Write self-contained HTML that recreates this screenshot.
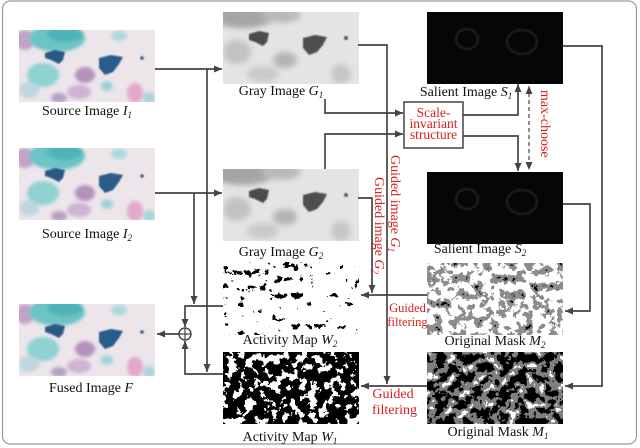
<!DOCTYPE html>
<html><head><meta charset="utf-8"><style>html,body{margin:0;padding:0;background:#fff}svg{display:block}svg text{font-family:"Liberation Serif","Times New Roman",serif}</style></head>
<body>
<svg width="640" height="448" viewBox="0 0 640 448" xmlns="http://www.w3.org/2000/svg" font-size="14">
<defs>
  <clipPath id="cp"><rect width="136" height="72"/></clipPath>
  <filter id="b3" x="-30%" y="-30%" width="160%" height="160%"><feGaussianBlur stdDeviation="3"/></filter>
  <filter id="b2" x="-30%" y="-30%" width="160%" height="160%"><feGaussianBlur stdDeviation="1.6"/></filter>
  <filter id="b1" x="-30%" y="-30%" width="160%" height="160%"><feGaussianBlur stdDeviation="0.7"/></filter>
  <marker id="ar" markerUnits="userSpaceOnUse" markerWidth="8" markerHeight="7" refX="8" refY="3.5" orient="auto-start-reverse"><path d="M0,0 L8,3.5 L0,7 z" fill="#444"/></marker>

  <filter id="fW2" x="0" y="0" width="1" height="1" color-interpolation-filters="sRGB">
    <feTurbulence type="fractalNoise" baseFrequency="0.13" numOctaves="4" seed="11"/>
    <feColorMatrix type="matrix" values="1 0 0 0 0 1 0 0 0 0 1 0 0 0 0 0 0 0 0 1"/>
    <feComponentTransfer>
      <feFuncR type="discrete" tableValues="0 0 0 0 0 0 0 1 1 1 1 1 1 1 1 1 1 1 1 1 1 1 1 1 1"/>
      <feFuncG type="discrete" tableValues="0 0 0 0 0 0 0 1 1 1 1 1 1 1 1 1 1 1 1 1 1 1 1 1 1"/>
      <feFuncB type="discrete" tableValues="0 0 0 0 0 0 0 1 1 1 1 1 1 1 1 1 1 1 1 1 1 1 1 1 1"/>
    </feComponentTransfer>
  </filter>
  <filter id="fW2b" x="0" y="0" width="1" height="1" color-interpolation-filters="sRGB">
    <feTurbulence type="fractalNoise" baseFrequency="0.13" numOctaves="4" seed="11"/>
    <feColorMatrix type="matrix" values="1 0 0 0 0 1 0 0 0 0 1 0 0 0 0 0 0 0 0 1"/>
    <feComponentTransfer>
      <feFuncR type="discrete" tableValues="0 0 0 0 0 0 0 0 0 1 1 1 1 1 1 1 1 1 1 1 1 1 1 1 1"/>
      <feFuncG type="discrete" tableValues="0 0 0 0 0 0 0 0 0 1 1 1 1 1 1 1 1 1 1 1 1 1 1 1 1"/>
      <feFuncB type="discrete" tableValues="0 0 0 0 0 0 0 0 0 1 1 1 1 1 1 1 1 1 1 1 1 1 1 1 1"/>
    </feComponentTransfer>
  </filter>
  <filter id="fW1" x="0" y="0" width="1" height="1" color-interpolation-filters="sRGB">
    <feTurbulence type="fractalNoise" baseFrequency="0.11" numOctaves="4" seed="5"/>
    <feColorMatrix type="matrix" values="1 0 0 0 0 1 0 0 0 0 1 0 0 0 0 0 0 0 0 1"/>
    <feComponentTransfer>
      <feFuncR type="discrete" tableValues="0 0 0 0 0 0 0 0 0 0 0 0 0 0 1 1 1 1 1 1 1 1 1 1 1"/>
      <feFuncG type="discrete" tableValues="0 0 0 0 0 0 0 0 0 0 0 0 0 0 1 1 1 1 1 1 1 1 1 1 1"/>
      <feFuncB type="discrete" tableValues="0 0 0 0 0 0 0 0 0 0 0 0 0 0 1 1 1 1 1 1 1 1 1 1 1"/>
    </feComponentTransfer>
  </filter>
  <filter id="fM2" x="0" y="0" width="1" height="1" color-interpolation-filters="sRGB">
    <feTurbulence type="fractalNoise" baseFrequency="0.12" numOctaves="4" seed="11"/>
    <feColorMatrix type="matrix" values="1 0 0 0 0 1 0 0 0 0 1 0 0 0 0 0 0 0 0 1"/>
    <feComponentTransfer>
      <feFuncR type="discrete" tableValues="0 0 0 0 0 0 0.55 0.55 0.55 0.55 0.55 0.55 1 1 1 1 1 1 1 1 1 1 1 1 1"/>
      <feFuncG type="discrete" tableValues="0 0 0 0 0 0 0.55 0.55 0.55 0.55 0.55 0.55 1 1 1 1 1 1 1 1 1 1 1 1 1"/>
      <feFuncB type="discrete" tableValues="0 0 0 0 0 0 0.55 0.55 0.55 0.55 0.55 0.55 1 1 1 1 1 1 1 1 1 1 1 1 1"/>
    </feComponentTransfer>
  </filter>
  <filter id="fM1" x="0" y="0" width="1" height="1" color-interpolation-filters="sRGB">
    <feTurbulence type="fractalNoise" baseFrequency="0.11" numOctaves="4" seed="5"/>
    <feColorMatrix type="matrix" values="1 0 0 0 0 1 0 0 0 0 1 0 0 0 0 0 0 0 0 1"/>
    <feComponentTransfer>
      <feFuncR type="discrete" tableValues="0 0 0 0 0 0 0 0 0 0 0 0 0.5 0.5 0.5 0.5 0.5 1 1 1 1 1 1 1 1"/>
      <feFuncG type="discrete" tableValues="0 0 0 0 0 0 0 0 0 0 0 0 0.5 0.5 0.5 0.5 0.5 1 1 1 1 1 1 1 1"/>
      <feFuncB type="discrete" tableValues="0 0 0 0 0 0 0 0 0 0 0 0 0.5 0.5 0.5 0.5 0.5 1 1 1 1 1 1 1 1"/>
    </feComponentTransfer>
  </filter>

  <g id="src" clip-path="url(#cp)">
    <rect width="136" height="72" fill="#ece5ea"/>
    <g filter="url(#b2)">
      <ellipse cx="6" cy="10" rx="10" ry="10" fill="#c3a2c8"/>
      <ellipse cx="38" cy="8" rx="28" ry="14" fill="#6cc4c6"/>
      <ellipse cx="46" cy="4" rx="18" ry="8" fill="#4fb4b9"/>
      <ellipse cx="24" cy="45" rx="16" ry="12" fill="#8fd2d2"/>
      <ellipse cx="10" cy="60" rx="10" ry="8" fill="#bfd6e0"/>
      <ellipse cx="66" cy="45" rx="10" ry="8" fill="#b591bd"/>
      <ellipse cx="60" cy="62" rx="12" ry="7" fill="#cfb3d3"/>
      <ellipse cx="116" cy="63" rx="8" ry="10" fill="#e3a7cb"/>
      <ellipse cx="100" cy="6" rx="8" ry="5" fill="#a8dada"/>
      <ellipse cx="88" cy="56" rx="6" ry="5" fill="#9ed3d5"/>
      <ellipse cx="40" cy="68" rx="8" ry="5" fill="#b9a0c4"/>
      <ellipse cx="130" cy="68" rx="6" ry="6" fill="#a9d6da"/>
    </g>
    <g filter="url(#b1)">
      <path d="M26,23 L36,20 L46,22 L44,30 L40,34 L32,30 L26,28 Z" fill="#2a5885"/>
      <path d="M80,28 L92,25 L104,27 L100,34 L94,42 L86,45 L80,38 Z" fill="#2b5c89"/>
      <circle cx="123" cy="28" r="1.8" fill="#2b5c89"/>
    </g>
  </g>

  <g id="gry" clip-path="url(#cp)">
    <rect width="136" height="72" fill="#e4e4e4"/>
    <g filter="url(#b3)">
      <ellipse cx="20" cy="4" rx="32" ry="12" fill="#a5a5a5"/>
      <ellipse cx="58" cy="3" rx="20" ry="8" fill="#bababa"/>
      <ellipse cx="14" cy="40" rx="14" ry="12" fill="#c2c2c2"/>
      <ellipse cx="62" cy="48" rx="12" ry="8" fill="#b3b3b3"/>
      <ellipse cx="40" cy="62" rx="16" ry="8" fill="#c9c9c9"/>
      <ellipse cx="118" cy="62" rx="10" ry="10" fill="#c6c6c6"/>
    </g>
    <g filter="url(#b1)">
      <path d="M26,22 L36,19 L46,21 L44,30 L40,34 L32,30 L26,28 Z" fill="#4b4b4b"/>
      <path d="M80,26 L92,23 L104,25 L100,33 L94,40 L86,43 L80,36 Z" fill="#505050"/>
      <circle cx="123" cy="26" r="2" fill="#555"/>
    </g>
  </g>

  <g id="sal">
    <rect width="136" height="72" fill="#060606"/>
    <g fill="none" stroke="#222" stroke-width="2" filter="url(#b1)">
      <ellipse cx="40" cy="27" rx="11" ry="10"/>
      <ellipse cx="95" cy="30" rx="15" ry="12"/>
    </g>
  </g>
</defs>

<rect x="2.5" y="1" width="634" height="443" rx="8" fill="#fff" stroke="#9a9a9a" stroke-width="1.2"/>

<!-- images -->
<use href="#src" x="19" y="30"/>
<use href="#src" x="19" y="148"/>
<use href="#src" x="19" y="304"/>
<use href="#gry" x="223" y="12"/>
<use href="#gry" x="223" y="169"/>
<use href="#sal" x="427" y="12"/>
<use href="#sal" x="427" y="172"/>
<rect x="223" y="262" width="136" height="73" fill="#000" filter="url(#fW2)"/>
<rect x="223" y="262" width="80" height="40" fill="#000" filter="url(#fW2b)"/>
<rect x="223" y="352" width="136" height="72" fill="#000" filter="url(#fW1)"/>
<rect x="427" y="263" width="136" height="72" fill="#000" filter="url(#fM2)"/>
<rect x="427" y="352" width="136" height="72" fill="#000" filter="url(#fM1)"/>

<!-- lines -->
<g fill="none" stroke="#444" stroke-width="1.7">
  <path d="M155,69 H222" marker-end="url(#ar)"/>
  <path d="M207,69 V372" marker-end="url(#ar)"/>
  <path d="M155,193 H222" marker-end="url(#ar)"/>
  <path d="M194,193 V304" marker-end="url(#ar)"/>
  <path d="M223,306 H185 V327" marker-end="url(#ar)"/>
  <path d="M223,374 H185 V341" marker-end="url(#ar)"/>
  <path d="M179,334 H157" marker-end="url(#ar)"/>
  <path d="M358,45 H387 V384" marker-end="url(#ar)"/>
  <path d="M358,198 H372 V293" marker-end="url(#ar)"/>
  <path d="M427,295 H361" marker-end="url(#ar)"/>
  <path d="M427,386 H361" marker-end="url(#ar)"/>
  <path d="M563,46 H602 V386 H565" marker-end="url(#ar)"/>
  <path d="M563,204 H590 V311 H565" marker-end="url(#ar)"/>
  <path d="M325,99 V113 H403" marker-end="url(#ar)"/>
  <path d="M325,169 V134 H403" marker-end="url(#ar)"/>
  <path d="M463,115 H518 V84" marker-end="url(#ar)"/>
  <path d="M463,136 H518 V171" marker-end="url(#ar)"/>
  <path d="M529,86 V170" stroke-width="1.2" stroke-dasharray="4,3" marker-start="url(#ar)" marker-end="url(#ar)"/>
</g>
<circle cx="185" cy="334" r="6" fill="#fff" stroke="#444" stroke-width="1.4"/>
<path d="M179,334 H191 M185,328 V340" stroke="#444" stroke-width="1.2"/>

<rect x="404" y="102" width="59" height="46" fill="#fff" stroke="#444" stroke-width="1.5"/>

<!-- black labels -->
<g fill="#111">
  <text x="87" y="115" text-anchor="middle">Source Image <tspan font-style="italic">I</tspan><tspan font-size="9" dy="3" font-style="italic">1</tspan></text>
  <text x="87" y="238" text-anchor="middle">Source Image <tspan font-style="italic">I</tspan><tspan font-size="9" dy="3" font-style="italic">2</tspan></text>
  <text x="91" y="392" text-anchor="middle">Fused Image <tspan font-style="italic">F</tspan></text>
  <text x="281" y="95" text-anchor="middle">Gray Image <tspan font-style="italic">G</tspan><tspan font-size="9" dy="3" font-style="italic">1</tspan></text>
  <text x="281" y="256" text-anchor="middle">Gray Image <tspan font-style="italic">G</tspan><tspan font-size="9" dy="3" font-style="italic">2</tspan></text>
  <text x="290" y="344" text-anchor="middle">Activity Map <tspan font-style="italic">W</tspan><tspan font-size="9" dy="3" font-style="italic">2</tspan></text>
  <text x="290" y="441" text-anchor="middle">Activity Map <tspan font-style="italic">W</tspan><tspan font-size="9" dy="3" font-style="italic">1</tspan></text>
  <text x="466" y="96" text-anchor="middle">Salient Image <tspan font-style="italic">S</tspan><tspan font-size="9" dy="3" font-style="italic">1</tspan></text>
  <text x="480" y="253" text-anchor="middle">Salient Image <tspan font-style="italic">S</tspan><tspan font-size="9" dy="3" font-style="italic">2</tspan></text>
  <text x="495" y="345" text-anchor="middle">Original Mask <tspan font-style="italic">M</tspan><tspan font-size="9" dy="3" font-style="italic">2</tspan></text>
  <text x="498" y="436" text-anchor="middle">Original Mask <tspan font-style="italic">M</tspan><tspan font-size="9" dy="3" font-style="italic">1</tspan></text>
</g>

<!-- red labels -->
<g fill="#d81e1e">
  <text x="433.5" y="117" text-anchor="middle" font-size="13.5">Scale-</text>
  <text x="433.5" y="128" text-anchor="middle" font-size="13.5">invariant</text>
  <text x="433.5" y="139" text-anchor="middle" font-size="13.5">structure</text>
  <text x="407.5" y="312" text-anchor="middle" font-size="12.5">Guided</text>
  <text x="407.5" y="326" text-anchor="middle" font-size="12.5">filtering</text>
  <text x="393" y="398" text-anchor="middle" font-size="14">Guided</text>
  <text x="394.5" y="414" text-anchor="middle" font-size="14">filtering</text>
  <text transform="translate(391,155) rotate(90)" font-size="14">Guided image <tspan font-style="italic">G</tspan><tspan font-size="9" dy="3" font-style="italic">1</tspan></text>
  <text transform="translate(375,177) rotate(90)" font-size="14">Guided image <tspan font-style="italic">G</tspan><tspan font-size="9" dy="3" font-style="italic">2</tspan></text>
  <text transform="translate(541,90) rotate(90)" font-size="14">max-choose</text>
</g>
</svg>
</body></html>
